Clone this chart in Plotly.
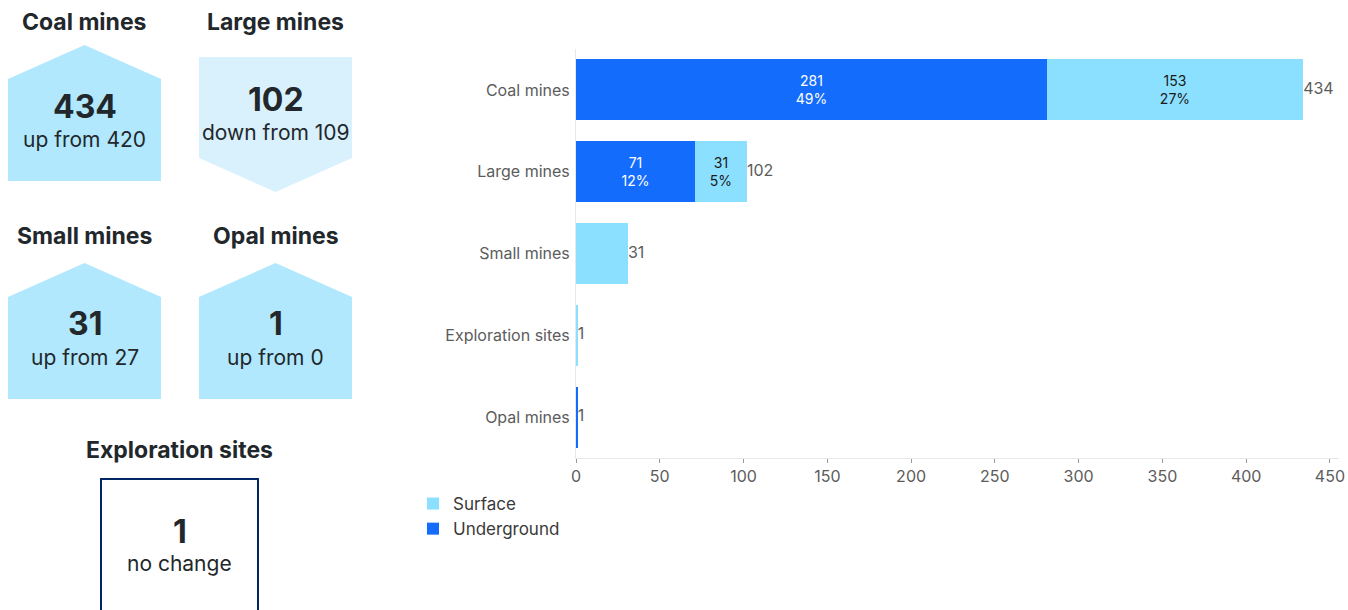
import plotly.graph_objects as go

# ---- data -------------------------------------------------------------
categories = ["Coal mines", "Large mines", "Small mines", "Exploration sites", "Opal mines"]
underground = [281, 71, 0, 0, 1]
surface = [153, 31, 31, 1, 0]

# summary cards: current count vs previous count
card_names = ["Coal mines", "Large mines", "Small mines", "Opal mines", "Exploration sites"]
card_current = [434, 102, 31, 1, 1]
card_previous = [420, 109, 27, 0, 1]

# ---- styling ----------------------------------------------------------
W, H = 1348, 610
FONT = "Inter, 'Noto Sans', sans-serif"
DARK = "#22272b"
GREY = "#5c5c5c"
C_UNDER = "#146cfd"
C_SURF = "#8ce0ff"
C_UP = "#b1e8fe"
C_DOWN = "#d8f1fd"
C_NAVY = "#002664"

totals = [u + s for u, s in zip(underground, surface)]
grand_total = sum(totals)


def seg_label(v, show):
    if not show or v == 0:
        return ""
    return f"{v}<br>{round(100 * v / grand_total)}%"


# only the multi-segment bars carry inside labels
multi = [u > 0 and s > 0 for u, s in zip(underground, surface)]
under_text = [seg_label(v, m) for v, m in zip(underground, multi)]
surf_text = [seg_label(v, m) for v, m in zip(surface, multi)]

fig = go.Figure()
fig.add_trace(go.Bar(
    y=categories, x=underground, orientation="h", name="Underground",
    marker=dict(color=C_UNDER, line=dict(width=0)),
    text=under_text, textposition="inside", insidetextanchor="middle",
    textangle=0, textfont=dict(color="white", size=14, family=FONT),
    legendrank=2, hoverinfo="x+name",
))
fig.add_trace(go.Bar(
    y=categories, x=surface, orientation="h", name="Surface",
    marker=dict(color=C_SURF, line=dict(width=0)),
    text=surf_text, textposition="inside", insidetextanchor="middle",
    textangle=0, textfont=dict(color="#1a1a1a", size=14, family=FONT),
    legendrank=1, hoverinfo="x+name",
))
# totals at the end of each bar
fig.add_trace(go.Scatter(
    y=categories, x=totals, mode="text", text=[str(t) for t in totals],
    textposition="middle right", textfont=dict(color=GREY, size=16, family=FONT),
    showlegend=False, hoverinfo="skip",
))


# ---- summary cards (pixel layout helpers) -----------------------------
def px(x):
    return x / W


def py(y):
    return 1 - y / H


shapes = []
annotations = []


def text(x, y, s, size, bold=False, color=DARK):
    annotations.append(dict(
        x=px(x), y=py(y), xref="paper", yref="paper", text=f"<b>{s}</b>" if bold else s,
        showarrow=False, xanchor="center", yanchor="middle",
        font=dict(family=FONT, size=size, color=color),
    ))


def poly(points, fill, line_color=None, line_width=0):
    d = "M " + " L ".join(f"{px(x)},{py(y)}" for x, y in points) + " Z"
    shapes.append(dict(
        type="path", path=d, xref="paper", yref="paper", fillcolor=fill,
        line=dict(width=line_width, color=line_color or fill), layer="below",
    ))


# (left, right, title_y, shape_top) for each card
card_boxes = [
    (8, 161, 22, 45),
    (199, 352, 22, 57),
    (8, 161, 236, 263),
    (199, 352, 236, 263),
    (101, 258, 450, 479),
]

for name, cur, prev, (x0, x1, ty, top) in zip(card_names, card_current, card_previous, card_boxes):
    cx = (x0 + x1) / 2
    text(cx, ty, name, 23, bold=True)
    if cur > prev:
        poly([(cx, top), (x1, top + 34), (x1, top + 136), (x0, top + 136), (x0, top + 34)], C_UP)
        text(cx, top + 61, str(cur), 32, bold=True)
        text(cx, top + 94, f"up from {prev}", 21)
    elif cur < prev:
        poly([(x0, top), (x1, top), (x1, top + 101), (cx, top + 135), (x0, top + 101)], C_DOWN)
        text(cx, top + 43, str(cur), 32, bold=True)
        text(cx, top + 76, f"down from {prev}", 21)
    else:
        poly([(x0, top), (x1, top), (x1, H + 4), (x0, H + 4)], "rgba(0,0,0,0)", C_NAVY, 2)
        text(cx, top + 52, str(cur), 32, bold=True)
        text(cx, top + 84, "no change", 21)

fig.update_layout(
    width=W, height=H,
    margin=dict(l=0, r=0, t=0, b=0, pad=0, autoexpand=False),
    paper_bgcolor="white", plot_bgcolor="white",
    barmode="stack", bargap=0.256,
    font=dict(family=FONT, color=GREY),
    xaxis=dict(
        domain=[576 / W, 1339 / W], range=[0, 455.4],
        tickvals=[0, 50, 100, 150, 200, 250, 300, 350, 400, 450],
        showgrid=False, zeroline=False,
        showline=True, linecolor="#e8e8e8", linewidth=1,
        ticks="outside", ticklen=4, tickcolor="#9a9a9a", tickwidth=1,
        tickfont=dict(size=16, color=GREY, family=FONT),
        fixedrange=True,
    ),
    yaxis=dict(
        domain=[py(458), py(49)],
        categoryorder="array", categoryarray=categories, autorange="reversed",
        showgrid=False, zeroline=False,
        showline=True, linecolor="#e8e8e8", linewidth=1,
        ticks="", ticklabelstandoff=2,
        tickfont=dict(size=16, color=GREY, family=FONT),
        fixedrange=True,
    ),
    legend=dict(
        x=px(413), y=py(486), xanchor="left", yanchor="top",
        orientation="v", traceorder="normal",
        font=dict(size=17, color="#3a3a3a", family=FONT),
        itemwidth=30, tracegroupgap=0, bgcolor="rgba(0,0,0,0)",
    ),
    shapes=shapes,
    annotations=annotations,
    uniformtext=dict(mode=False),
)

fig.write_html("out.html")
